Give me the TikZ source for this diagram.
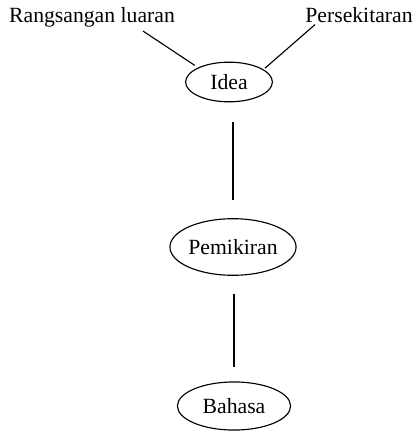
\documentclass[tikz,border=0pt]{standalone}
\usepackage{fontspec}
\setmainfont{Liberation Serif}
\usetikzlibrary{shapes.geometric}

\begin{document}
\begin{tikzpicture}[
  x=0.53pt, y=-0.53pt,
  source/.style={inner sep=0pt, font=\fontsize{11.5}{13}\selectfont},
  oval/.style={ellipse, draw, line width=0.6pt, inner sep=0pt, font=\fontsize{11.5}{13}\selectfont},
  link/.style={line width=0.6pt}
]
  \useasboundingbox (0,0) rectangle (415,433);
  % Nodes
  \node[source, anchor=base] (rang) at (92,23) {Rangsangan luaran};
  \node[source, anchor=base] (persek) at (359,23) {Persekitaran};
  \node[oval, minimum width=46pt, minimum height=21pt] (idea) at (229,82) {Idea};
  \node[oval, minimum width=62pt, minimum height=30pt] (pemikiran) at (233,247) {Pemikiran};
  \node[oval, minimum width=60pt, minimum height=25.5pt] (bahasa) at (234,406) {Bahasa};

  % Lines
  \draw[link, shorten >=2pt] ([shift={(51,3)}]rang.south) -- (idea.155);
  \draw[link, shorten >=1pt] ([shift={(10,1)}]persek.south west) -- (idea.20);
  \draw[link, shorten <=10.5pt, shorten >=9.5pt] (pemikiran.north |- idea.south) -- (pemikiran.north);
  \draw[link, shorten <=9.5pt, shorten >=7.5pt] (bahasa.north |- pemikiran.south) -- (bahasa.north);
\end{tikzpicture}
\end{document}
